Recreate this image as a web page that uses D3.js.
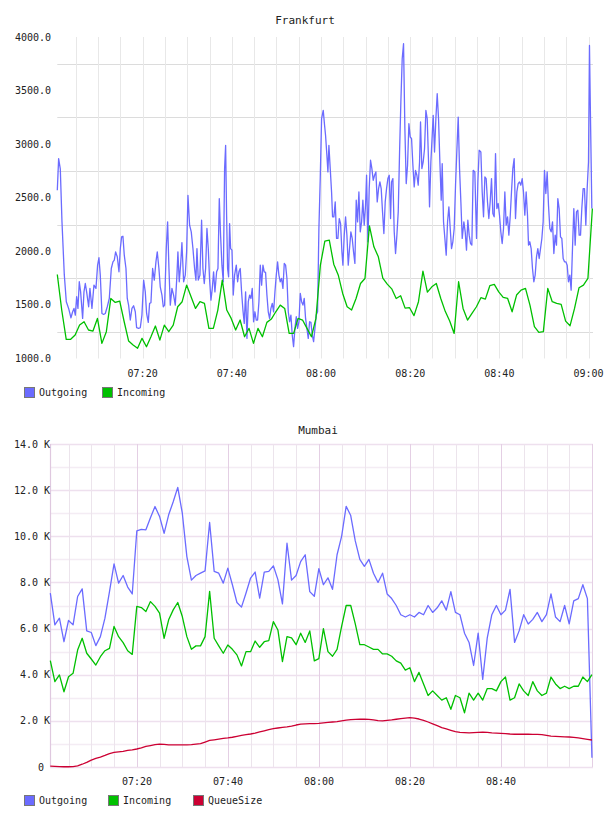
<!DOCTYPE html>
<html>
<head>
<meta charset="utf-8">
<script src="https://cdn.jsdelivr.net/npm/d3@7"></script>
<style>
body { margin: 0; background: #fff; }
text { font-family: "DejaVu Sans Mono", monospace; font-size: 10px; fill: #222; }
</style>
</head>
<body>
<svg width="608" height="816"></svg>
<script>
// time values are minutes after 07:00

// Frankfurt outgoing: [minute, value]
let frankfurtOutgoing = [
  [0.86,2570],[1.16,2865],[1.53,2770],[1.91,2275],[2.43,1780],[2.88,1530],[3.40,1467],[3.92,1380],[4.30,1436],[4.60,1467],
  [4.90,1405],[5.20,1576],[5.49,1467],[5.79,1716],[6.09,1622],[6.54,1374],[6.84,1622],[7.14,1700],[7.44,1622],[7.89,1483],
  [8.18,1654],[8.63,1467],[9.08,1685],[9.53,1654],[9.90,1871],[10.20,1940],[10.50,1778],[10.87,1420],[11.25,1411],[11.62,1420],
  [12.07,1483],[12.52,1560],[12.97,1840],[13.34,1902],[13.64,1918],[13.94,1995],[14.31,1949],[14.69,1809],[14.99,2026],[15.28,2135],
  [15.58,2141],[15.88,1964],[16.26,1840],[16.55,1560],[16.85,1498],[17.23,1359],[17.60,1467],[17.97,1492],[18.35,1436],[18.65,1287],
  [19.10,1281],[19.47,1287],[19.84,1405],[20.22,1731],[20.59,1622],[20.89,1420],[21.26,1337],[21.56,1514],[21.86,1520],[22.24,1840],
  [22.61,1731],[22.98,1902],[23.28,1995],[23.65,1840],[23.95,1669],[24.33,1592],[24.63,1483],[24.92,1498],[25.30,2026],[25.60,2275],
  [25.90,1840],[26.20,1498],[26.57,1654],[26.94,1592],[27.32,1498],[27.69,1778],[27.91,1995],[28.21,1716],[28.51,1871],[28.81,2082],
  [29.19,1716],[29.56,1778],[29.86,1995],[30.16,2523],[30.53,2244],[30.90,2182],
  [31.28,2026],[31.65,1840],[31.95,1731],[32.18,2026],[32.48,1731],[32.85,1778],[33.22,2290],[33.52,1840],[33.82,1700],[34.12,1840],
  [34.42,2213],[34.72,2026],[35.02,1731],[35.32,1545],[35.62,1654],[35.91,1809],[36.21,1622],[36.59,1809],[36.89,1840],[37.19,2492],
  [37.48,2151],[37.78,1871],[38.08,1716],[38.38,2772],[38.61,2989],[38.83,2337],[39.05,1840],[39.28,1762],[39.50,2259],[39.73,2026],
  [40.03,2011],[40.32,1592],[40.62,1778],[41.00,1871],[41.30,1716],[41.59,1809],[41.89,1840],[42.19,1622],[42.49,1452],[42.79,1328],
  [43.09,1622],[43.39,1188],[43.69,1530],[43.99,1592],[44.29,1560],[44.58,1654],[44.88,1343],[45.18,1436],[45.48,1359],[45.78,1359],
  [46.08,1530],[46.38,1871],[46.68,1685],[46.98,1871],[47.27,1809],[47.57,1803],[47.87,1592],[48.17,1436],[48.47,1374],[48.77,1467],
  [49.07,1514],[49.37,1436],[49.67,1622],[49.97,1778],[50.26,1902],[50.56,1778],[50.86,1716],[51.16,1747],[51.46,1654],[51.76,1887],
  [52.06,1871],[52.36,1747],[52.66,1436],[52.96,1343],[53.25,1405],[53.55,1219],[53.85,1110],[54.15,1281],[54.45,1390],[54.75,1281],
  [55.05,1343],[55.35,1607],[55.65,1530],[55.95,1498],[56.24,1560],[56.54,1374],[56.84,1281],[57.14,1188],[57.44,1343],[57.74,1337],
  [58.04,1219],[58.34,1157],[58.64,1281],[58.93,1405],[59.23,1436],[59.53,2213],[59.83,2679],[60.13,3238],[60.50,3315],[60.80,3176],
  [61.02,3083],[61.32,2896],[61.55,2741],[61.77,2989],[62.07,2772],[62.37,2554],[62.59,2322],[62.89,2322],[63.19,2461],[63.49,2120],
  [63.79,2120],[64.09,2306],[64.39,2259],[64.69,1995],[64.91,1871],[65.21,2151],[65.51,2322],[65.81,2151],[66.11,1871],[66.40,2026],
  [66.70,2182],[67.00,2120],[67.30,1995],[67.60,1887],[67.90,2477],[68.20,2275],[68.50,2554],[68.80,2182],[69.10,2275],[69.39,2477],
  [69.69,2244],[69.99,2430],[70.22,2710],[70.52,2089],[70.81,2585],[71.11,2850],[71.41,2772],[71.71,2663],[72.01,2710],[72.31,2741],
  [72.61,2461],[72.91,2585],[73.21,2648],[73.50,2585],[73.80,2368],[74.10,2166],[74.40,2461],[74.70,2585],[75.00,2679],[75.30,2710],
  [75.60,2306],[75.82,2648],[76.12,2679],[76.42,2182],[76.72,1980],[77.02,2151],[77.32,2368],[77.62,2927],[77.91,3393],[78.21,3797],
  [78.51,3937],[78.81,3145],[79.11,2632],[79.41,2803],[79.71,3191],[80.01,3067],[80.31,3051],[80.61,2803],[80.90,2601],[81.20,2756],
  [81.50,2710],[81.80,2617],[82.10,2834],[82.32,3207],[82.62,2772],[82.92,2834],[83.22,2958],[83.52,3315],[83.82,3238],[84.12,2834],
  [84.34,2415],[84.64,2834],[84.94,3083],[85.16,3269],[85.46,2927],[85.76,3238],[86.06,3471],[86.36,3238],[86.66,2834],[86.96,2477],
  [87.18,2818],[87.48,2275],[87.78,2120],[88.08,1964],[88.38,2275],[88.68,2415],[88.98,2213],[89.27,2026],[89.57,2089],[89.87,2213],
  [90.17,2617],[90.47,2943],[90.77,3253],[91.07,2772],[91.37,2461],[91.67,2120],
  [92.04,2275],[92.34,2182],[92.63,2011],[92.93,2290],[93.23,2151],[93.53,2073],[93.83,2058],[94.13,2756],[94.50,2741],[94.88,2120],
  [95.18,2648],[95.47,2943],[95.85,2927],[96.15,2554],[96.45,2322],[96.75,2694],[97.04,2679],[97.34,2461],[97.64,2306],[97.94,2461],
  [98.24,2679],[98.54,2353],[98.84,2322],[99.14,2912],[99.44,2399],[99.74,2446],[100.03,2337],[100.33,2182],[100.63,2073],[100.93,2213],
  [101.23,2554],[101.53,2244],[101.83,2322],[102.13,2151],[102.43,2322],[102.72,2554],[103.02,2772],[103.32,2865],[103.62,2306],[103.92,2554],
  [104.22,2632],[104.52,2648],[104.82,2617],[105.12,2679],[105.41,2554],[105.71,2337],[106.01,2554],[106.31,2337],[106.54,2058],[106.83,2089],
  [107.13,2026],[107.43,1840],[107.73,1716],[108.03,1778],[108.33,1949],[108.63,2026],[108.93,1933],[109.23,2026],[109.53,2120],[109.82,2275],
  [110.12,2756],[110.42,2539],[110.72,2741],[111.02,2430],[111.32,2213],[111.62,2182],[111.92,2275],[112.22,1980],[112.52,2151],[112.81,2058],
  [113.11,2492],[113.41,2399],[113.71,2135],[114.01,2120],[114.31,1933],[114.61,1902],[114.91,1902],[115.21,1871],[115.50,1716],[115.80,1778],
  [116.10,1638],[116.40,2026],[116.70,2399],[117.00,2058],[117.30,2368],[117.60,2384],[117.90,2151],[118.20,2151],[118.49,2399],[118.79,2585],
  [119.09,2585],[119.39,2244],[119.69,2585],[119.99,2834],[120.21,3921],[120.44,3238],[120.74,2399]
];

// Frankfurt incoming: one value per minute from 07:00:52
let frankfurtStart = 0.86;
let frankfurtIncoming = [
  1784,1450,1179,1179,1219,1312,1343,1266,1256,1374,
  1141,1250,1560,1523,1536,1343,1163,1126,1095,1188,
  1110,1203,1303,1172,1312,1250,1312,1483,1530,1685,
  1576,1467,1530,1514,1281,1281,1452,1731,1452,1374,
  1266,1359,1203,1281,1141,1281,1203,1337,1368,1436,
  1498,1467,1234,1234,1374,1359,1281,1203,1374,1871,
  2095,2104,1880,1780,1607,1483,1452,1560,1700,1747,
  2238,2042,1949,1750,1694,1650,1560,1585,1470,1474,
  1400,1530,1815,1620,1669,1700,1560,1440,1350,1234,
  1716,1467,1359,1421,1483,1567,1554,1679,1691,1622,
  1570,1560,1436,1592,1638,1654,1498,1297,1244,1250,
  1654,1530,1514,1505,1349,1306,1467,1660,1685,1747,
  2399
];

// Mumbai: one value per minute, in thousands
let mumbaiStart = 0.97;
let mumbaiOutgoing = [
  7.54,6.16,6.45,5.43,6.35,6.16,7.39,7.72,5.90,5.83,
  5.26,5.65,6.45,7.60,8.80,7.97,8.30,7.80,7.50,10.23,
  10.30,10.28,10.80,11.29,10.86,10.13,10.93,11.50,12.12,11.00,
  9.12,8.10,8.30,8.40,8.50,10.60,8.48,8.40,7.97,8.62,
  7.90,7.13,6.93,7.54,8.19,8.45,7.32,8.45,8.48,8.72,
  8.12,7.07,9.70,8.10,8.30,8.90,9.20,7.60,7.40,8.60,
  7.90,8.20,7.70,9.20,10.00,11.30,10.90,9.80,9.00,8.70,
  9.00,8.40,8.00,8.40,7.50,7.30,7.00,6.60,6.50,6.60,
  6.50,6.70,6.60,7.00,6.70,6.90,7.20,6.80,7.60,6.70,
  6.60,5.80,5.40,4.40,5.80,3.80,5.60,6.60,7.00,6.60,
  6.80,7.70,5.40,5.90,6.60,6.20,6.40,6.70,6.30,6.60,
  7.50,6.50,6.30,7.00,6.20,7.20,7.30,7.90,7.30,0.40
];
let mumbaiIncoming = [
  4.61,3.70,3.99,3.26,3.91,4.06,5.07,5.58,4.93,4.68,
  4.42,4.78,5.04,5.14,6.09,5.65,5.39,5.04,4.88,6.96,
  6.91,6.74,7.17,6.96,6.67,5.58,6.38,6.81,7.13,6.52,
  5.65,5.10,5.25,5.25,5.65,7.61,5.58,5.25,4.93,5.29,
  5.10,4.86,4.38,5.00,5.00,5.46,5.19,5.43,5.48,6.30,
  5.94,4.57,5.65,5.60,5.30,5.80,5.40,5.90,4.60,4.70,
  6.00,5.00,4.80,5.10,6.10,7.00,7.00,6.20,5.30,5.30,
  5.20,5.10,5.10,4.90,4.90,4.80,4.60,4.50,4.20,4.30,
  3.70,4.10,3.60,3.10,3.30,3.10,2.90,3.00,2.50,3.10,
  3.00,2.35,3.20,2.90,3.20,2.90,3.40,3.40,3.30,3.70,
  3.90,2.90,3.00,3.60,3.30,3.10,3.70,3.30,3.10,3.20,
  3.90,3.60,3.40,3.50,3.40,3.50,3.50,3.90,3.70,4.00
];
let mumbaiQueue = [
  0.04,0.03,0.02,0.01,0.01,0.02,0.05,0.12,0.20,0.30,
  0.37,0.43,0.50,0.58,0.63,0.66,0.68,0.72,0.74,0.78,
  0.83,0.89,0.93,0.97,0.99,0.98,0.96,0.96,0.96,0.96,
  0.96,0.97,0.99,1.01,1.08,1.15,1.18,1.21,1.24,1.26,
  1.29,1.33,1.37,1.40,1.43,1.47,1.52,1.57,1.62,1.66,
  1.69,1.72,1.74,1.77,1.82,1.86,1.87,1.88,1.88,1.89,
  1.91,1.93,1.95,1.97,2.00,2.03,2.05,2.06,2.07,2.07,
  2.06,2.04,2.01,2.00,2.02,2.04,2.07,2.10,2.12,2.14,
  2.12,2.08,2.02,1.95,1.87,1.79,1.71,1.65,1.59,1.53,
  1.50,1.49,1.48,1.49,1.50,1.51,1.50,1.48,1.47,1.46,
  1.45,1.43,1.42,1.42,1.42,1.42,1.41,1.41,1.40,1.37,
  1.34,1.33,1.32,1.31,1.30,1.28,1.26,1.23,1.20,1.17
];

let frankfurtYTicks = [1000, 1500, 2000, 2500, 3000, 3500, 4000];
let mumbaiYTicks = [0, 2, 4, 6, 8, 10, 12, 14];
let frankfurtXLabels = [20, 40, 60, 80, 100, 120];
let mumbaiXLabels = [20, 40, 60, 80, 100];

let colOut = "#6b6bff", colIn = "#00c000", colQueue = "#cc0033";

function hhmm(m) {
  let h = 7 + Math.floor(m / 60);
  let mm = m % 60;
  return (h < 10 ? "0" : "") + h + ":" + (mm < 10 ? "0" : "") + mm;
}

function legend(g, items, y) {
  items.forEach(it => {
    g.append("rect").attr("x", it.x + 0.5).attr("y", y + 0.5).attr("width", 10).attr("height", 10)
      .attr("fill", it.color).attr("stroke", "#777");
    g.append("text").attr("x", it.x + 15).attr("y", y + 9).text(it.name);
  });
}

var svg = d3.select("svg");

// ---------- Frankfurt ----------
var fx = d3.scaleLinear().domain([0.86, 121]).range([57.3, 593]);
var fy = d3.scaleLinear().domain([1000, 4000]).range([358.5, 37]);
var gTop = svg.append("g");

gTop.append("text").attr("x", 305).attr("y", 24).attr("text-anchor", "middle")
  .style("font-size", "11px").text("Frankfurt");

// grid
gTop.append("g").selectAll("line")
  .data(d3.range(1250, 4000, 500))
  .join("line")
  .attr("x1", fx.range()[0]).attr("x2", fx.range()[1])
  .attr("y1", d => Math.round(fy(d)) + 0.5).attr("y2", d => Math.round(fy(d)) + 0.5)
  .attr("stroke", "#dcdcdc").attr("stroke-width", 1);
gTop.append("g").selectAll("line")
  .data(d3.range(5, 121, 5))
  .join("line")
  .attr("x1", d => Math.round(fx(d)) + 0.5).attr("x2", d => Math.round(fx(d)) + 0.5)
  .attr("y1", fy(4000)).attr("y2", fy(1000))
  .attr("stroke", "#e8e8e8").attr("stroke-width", 1);

// axis labels
gTop.append("g").selectAll("text")
  .data(frankfurtYTicks)
  .join("text")
  .attr("x", 51).attr("y", d => fy(d)).attr("dy", "0.35em")
  .attr("text-anchor", "end")
  .text(d => d3.format(".1f")(d));
gTop.append("g").selectAll("text")
  .data(frankfurtXLabels)
  .join("text")
  .attr("x", d => fx(d)).attr("y", 377).attr("text-anchor", "middle")
  .text(d => hhmm(d));

// lines
var fLine = d3.line().x(d => fx(d[0])).y(d => fy(d[1]));
gTop.append("path").datum(frankfurtOutgoing)
  .attr("fill", "none").attr("stroke", colOut).attr("stroke-width", 1.3)
  .attr("stroke-linejoin", "round").attr("d", fLine);
gTop.append("path").datum(frankfurtIncoming.map((v, i) => [frankfurtStart + i, v]))
  .attr("fill", "none").attr("stroke", colIn).attr("stroke-width", 1.3)
  .attr("stroke-linejoin", "round").attr("d", fLine);

legend(gTop, [{x: 24, color: colOut, name: "Outgoing"}, {x: 102, color: colIn, name: "Incoming"}], 387);

// ---------- Mumbai ----------
var mx = d3.scaleLinear().domain([0.9, 120.2]).range([50, 593]);
var my = d3.scaleLinear().domain([0, 14]).range([767, 444]);
var gBot = svg.append("g");

gBot.append("text").attr("x", 318).attr("y", 434).attr("text-anchor", "middle")
  .style("font-size", "11px").text("Mumbai");

// minor + major horizontals
gBot.append("g").selectAll("line")
  .data(d3.range(1, 14, 2))
  .join("line")
  .attr("x1", mx.range()[0]).attr("x2", mx.range()[1])
  .attr("y1", d => Math.round(my(d)) + 0.5).attr("y2", d => Math.round(my(d)) + 0.5)
  .attr("stroke", "#f4ecf4").attr("stroke-width", 1.5);
gBot.append("g").selectAll("line")
  .data(d3.range(0, 15, 2))
  .join("line")
  .attr("x1", mx.range()[0]).attr("x2", mx.range()[1])
  .attr("y1", d => Math.round(my(d)) + 0.5).attr("y2", d => Math.round(my(d)) + 0.5)
  .attr("stroke", "#eee0ee").attr("stroke-width", 1.5);
// verticals every 5 min, darker every 20
gBot.append("g").selectAll("line")
  .data(d3.range(5, 121, 5))
  .join("line")
  .attr("x1", d => Math.round(mx(d)) + 0.5).attr("x2", d => Math.round(mx(d)) + 0.5)
  .attr("y1", my(14)).attr("y2", my(0))
  .attr("stroke", d => d % 20 === 0 ? "#e4cfe4" : "#ece4ec")
  .attr("stroke-width", 1);
gBot.append("line")
  .attr("x1", mx.range()[0] + 0.5).attr("x2", mx.range()[0] + 0.5)
  .attr("y1", my(14)).attr("y2", my(0))
  .attr("stroke", "#dfc8df").attr("stroke-width", 1.2);

gBot.append("g").selectAll("text")
  .data(mumbaiYTicks)
  .join("text")
  .attr("x", d => d === 0 ? 44 : 50).attr("y", d => my(d)).attr("dy", "0.35em")
  .attr("text-anchor", "end")
  .text(d => d === 0 ? "0" : d3.format(".1f")(d) + " K");
gBot.append("g").selectAll("text")
  .data(mumbaiXLabels)
  .join("text")
  .attr("x", d => mx(d)).attr("y", 785).attr("text-anchor", "middle")
  .text(d => hhmm(d));

var mLine = d3.line().x((d, i) => mx(mumbaiStart + i)).y(d => my(d));
[[mumbaiOutgoing, colOut], [mumbaiIncoming, colIn], [mumbaiQueue, colQueue]].forEach(s => {
  gBot.append("path").datum(s[0])
    .attr("fill", "none").attr("stroke", s[1]).attr("stroke-width", 1.3)
    .attr("stroke-linejoin", "round").attr("d", mLine);
});

legend(gBot, [{x: 24, color: colOut, name: "Outgoing"}, {x: 108, color: colIn, name: "Incoming"},
              {x: 193, color: colQueue, name: "QueueSize"}], 795);
</script>
</body>
</html>
